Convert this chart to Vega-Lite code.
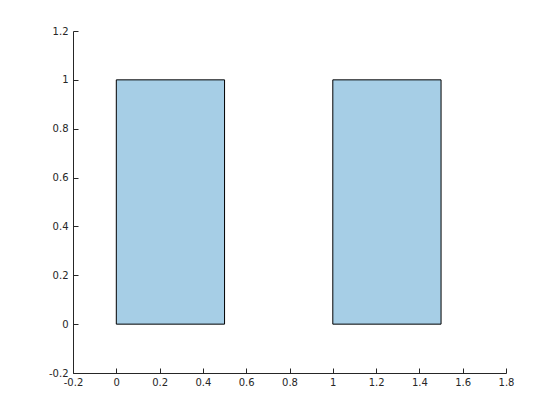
{
  "$schema": "https://vega.github.io/schema/vega-lite/v6.json",
  "width": 433,
  "height": 342,
  "autosize": "none",
  "padding": {"left": 73, "top": 31, "right": 54, "bottom": 47},
  "background": "white",
  "config": {
    "view": {"stroke": null},
    "axis": {
      "grid": false,
      "domainColor": "#262626",
      "tickColor": "#262626",
      "labelColor": "#262626",
      "labelFont": "DejaVu Sans",
      "labelFontSize": 10,
      "tickSize": -5,
      "domainWidth": 1,
      "tickWidth": 1,
      "labelFlush": false,
      "labelOverlap": false,
      "title": null
    }
  },
  "data": {
    "values": [
      {"x0": 0, "x1": 0.5, "y0": 0, "y1": 1},
      {"x0": 1, "x1": 1.5, "y0": 0, "y1": 1}
    ]
  },
  "mark": {"type": "rect", "fill": "#a6cee6", "stroke": "black", "strokeWidth": 1},
  "encoding": {
    "x": {
      "field": "x0", "type": "quantitative",
      "scale": {"domain": [-0.2, 1.8], "nice": false, "zero": false},
      "axis": {
        "values": [-0.2, 0, 0.2, 0.4, 0.6, 0.8, 1, 1.2, 1.4, 1.6, 1.8],
        "labelExpr": "replace(format(datum.value, '.1~f'), '−', '-')",
        "labelPadding": 9
      }
    },
    "x2": {"field": "x1"},
    "y": {
      "field": "y0", "type": "quantitative",
      "scale": {"domain": [-0.2, 1.2], "nice": false, "zero": false},
      "axis": {
        "values": [-0.2, 0, 0.2, 0.4, 0.6, 0.8, 1, 1.2],
        "labelExpr": "replace(format(datum.value, '.1~f'), '−', '-')",
        "labelPadding": 10
      }
    },
    "y2": {"field": "y1"}
  }
}
